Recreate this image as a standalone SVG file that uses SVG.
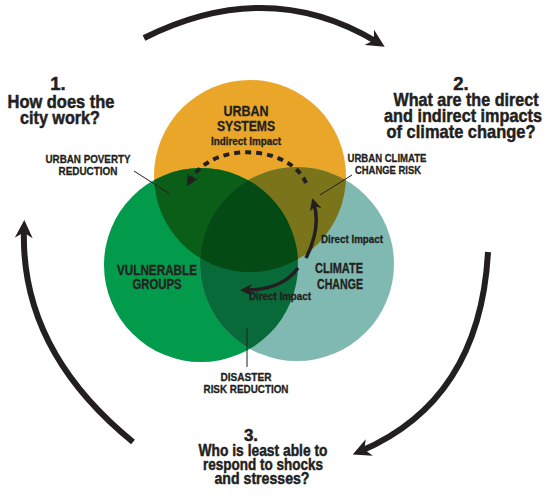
<svg xmlns="http://www.w3.org/2000/svg" width="546" height="499" viewBox="0 0 546 499">
<style>
text{font-family:"Liberation Sans",Arial,sans-serif;font-weight:bold;fill:#231F20;text-anchor:middle;stroke:#231F20;stroke-width:0.3}
.q{font-size:18.5px;stroke-width:0.5}
.q3{font-size:17px;stroke-width:0.5}
.c{font-size:14px}
.s{font-size:11px}
.i{font-size:10.5px}
.big{fill:none;stroke:#231F20;stroke-width:6}
.sm{fill:none;stroke:#231F20;stroke-width:3.5}
.lead{stroke:#231F20;stroke-width:1}
</style>
<defs>
<clipPath id="cO"><circle cx="250" cy="176" r="96"/></clipPath>
<clipPath id="cG"><circle cx="201" cy="265" r="97"/></clipPath>
<marker id="mb" viewBox="0 0 10 10" refX="5" refY="5" markerWidth="18" markerHeight="18" markerUnits="userSpaceOnUse" orient="auto">
<path d="M0,0 L10,5 L0,10 L3,5 Z" fill="#231F20"/>
</marker>
<marker id="ms" viewBox="0 0 10 10" refX="5" refY="5" markerWidth="12" markerHeight="12" markerUnits="userSpaceOnUse" orient="auto">
<path d="M0,0 L10,5 L0,10 L3,5 Z" fill="#231F20"/>
</marker>
</defs>
<g id="circles">
<circle id="urban-systems" cx="250" cy="176" r="96" fill="#E9A628"/>
<circle id="vulnerable-groups" cx="201" cy="265" r="97" fill="#029A4B"/>
<circle id="climate-change" cx="297" cy="264" r="97" fill="#80B9B1"/>
<circle cx="201" cy="265" r="97" fill="#0A5E18" clip-path="url(#cO)"/>
<circle cx="297" cy="264" r="97" fill="#7A741A" clip-path="url(#cO)"/>
<circle cx="297" cy="264" r="97" fill="#086A38" clip-path="url(#cG)"/>
<g clip-path="url(#cO)"><circle cx="297" cy="264" r="97" fill="#034A14" clip-path="url(#cG)"/></g>
</g>
<g id="connectors">
<path class="big" d="M144,38 Q268,-24 377,42" marker-end="url(#mb)"/>
<path class="big" d="M488,252 Q480,400 361,451" marker-end="url(#mb)"/>
<path class="big" d="M133,442 Q20,350 24,229" marker-end="url(#mb)"/>
<path d="M306,183 C290,145 212,140 190,181" fill="none" stroke="#231F20" stroke-width="4" stroke-dasharray="6 5" marker-end="url(#ms)"/>
<path class="sm" d="M306,258 Q321,228 314,204" marker-end="url(#ms)"/>
<path class="sm" d="M298,268 Q282,290 246,290" marker-end="url(#ms)"/>
<line class="lead" x1="134" y1="171" x2="170" y2="194"/>
<line class="lead" x1="352" y1="175" x2="320" y2="195"/>
<line class="lead" x1="247" y1="328" x2="247" y2="367"/>
</g>
<g id="q1">
<text class="q" x="58" y="90">1.</text>
<text class="q" x="61" y="108" textLength="107" lengthAdjust="spacingAndGlyphs">How does the</text>
<text class="q" x="60" y="124" textLength="80" lengthAdjust="spacingAndGlyphs">city work?</text>
</g>
<g id="q2">
<text class="q" x="461" y="90">2.</text>
<text class="q" x="466" y="106" textLength="145" lengthAdjust="spacingAndGlyphs">What are the direct</text>
<text class="q" x="463" y="122" textLength="158" lengthAdjust="spacingAndGlyphs">and indirect impacts</text>
<text class="q" x="461" y="138" textLength="149" lengthAdjust="spacingAndGlyphs">of climate change?</text>
</g>
<g id="q3">
<text class="q3" x="251" y="441">3.</text>
<text class="q3" x="263" y="456" textLength="129" lengthAdjust="spacingAndGlyphs">Who is least able to</text>
<text class="q3" x="263" y="470" textLength="120" lengthAdjust="spacingAndGlyphs">respond to shocks</text>
<text class="q3" x="262" y="484" textLength="95" lengthAdjust="spacingAndGlyphs">and stresses?</text>
</g>
<g id="label-urban-systems">
<text class="c" x="246" y="116" textLength="45" lengthAdjust="spacingAndGlyphs">URBAN</text>
<text class="c" x="246" y="131" textLength="58" lengthAdjust="spacingAndGlyphs">SYSTEMS</text>
<text class="i" x="246" y="145" textLength="70" lengthAdjust="spacingAndGlyphs">Indirect Impact</text>
</g>
<g id="label-vulnerable-groups">
<text class="c" x="157" y="275" textLength="80" lengthAdjust="spacingAndGlyphs">VULNERABLE</text>
<text class="c" x="157" y="289" textLength="49" lengthAdjust="spacingAndGlyphs">GROUPS</text>
</g>
<g id="label-climate-change">
<text class="c" x="339" y="273" textLength="48" lengthAdjust="spacingAndGlyphs">CLIMATE</text>
<text class="c" x="340" y="289" textLength="46" lengthAdjust="spacingAndGlyphs">CHANGE</text>
<text class="i" x="352" y="243" textLength="62" lengthAdjust="spacingAndGlyphs">Direct Impact</text>
<text class="i" x="280" y="300" textLength="62" lengthAdjust="spacingAndGlyphs">Direct Impact</text>
</g>
<g id="label-urban-poverty">
<text class="s" x="88" y="163" textLength="85" lengthAdjust="spacingAndGlyphs">URBAN POVERTY</text>
<text class="s" x="88" y="175" textLength="59" lengthAdjust="spacingAndGlyphs">REDUCTION</text>
</g>
<g id="label-urban-climate-risk">
<text class="s" x="387" y="162" textLength="79" lengthAdjust="spacingAndGlyphs">URBAN CLIMATE</text>
<text class="s" x="388" y="174" textLength="66" lengthAdjust="spacingAndGlyphs">CHANGE RISK</text>
</g>
<g id="label-disaster">
<text class="s" x="246" y="381" textLength="51" lengthAdjust="spacingAndGlyphs">DISASTER</text>
<text class="s" x="246" y="393" textLength="85" lengthAdjust="spacingAndGlyphs">RISK REDUCTION</text>
</g>
</svg>
